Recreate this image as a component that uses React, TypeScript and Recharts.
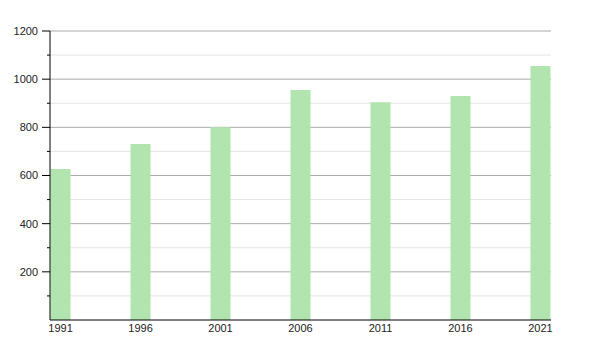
import { BarChart, Bar, XAxis, YAxis, CartesianGrid } from 'recharts';

const YEARS = [1991, 1996, 2001, 2006, 2011, 2016, 2021];
const POPULATION = [627, 731, 800, 955, 904, 930, 1055];
const Y_TICKS = [0, 100, 200, 300, 400, 500, 600, 700, 800, 900, 1000, 1100, 1200];
const MAJOR_LINES = [200, 400, 600, 800, 1000, 1200];
const MINOR_LINES = [100, 300, 500, 700, 900, 1100];

const chartData = YEARS.map((year, i) => ({ year, value: POPULATION[i] }));

function YTick({ x, y, payload }: any) {
    const v = payload.value;
    if (v === 0) return null;
    const major = v % 200 === 0;
    return (
        <g>
            <line x1={x - (major ? 8 : 3)} x2={x} y1={y} y2={y} stroke="#000" />
            {major && (
                <text x={x - 12} y={y} dy="0.35em" textAnchor="end" fontSize={11} fill="#222">
                    {v}
                </text>
            )}
        </g>
    );
}

export default function App() {
    return (
        <div style={{ width: 584, height: 334, fontFamily: '"Liberation Sans", Arial, sans-serif' }}>
            <BarChart width={584} height={334} data={chartData} margin={{ top: 23, right: 41, left: 0, bottom: 2 }}>
                <CartesianGrid vertical={false} horizontalValues={MINOR_LINES} stroke="#e3e3e3" />
                <CartesianGrid vertical={false} horizontalValues={MAJOR_LINES} stroke="#aaaaaa" />
                <XAxis
                    dataKey="year"
                    type="number"
                    domain={[1990.34, 2021.66]}
                    allowDataOverflow
                    ticks={YEARS}
                    interval={0}
                    tickLine={false}
                    tickSize={0}
                    tickMargin={4}
                    height={20}
                    axisLine={{ stroke: '#000' }}
                    tick={{ fontSize: 11, fill: '#222' }}
                />
                <YAxis
                    domain={[0, 1200]}
                    ticks={Y_TICKS}
                    interval={0}
                    width={42}
                    tickLine={false}
                    tickSize={0}
                    tickMargin={0}
                    axisLine={{ stroke: '#000' }}
                    tick={<YTick />}
                />
                <Bar dataKey="value" fill="#b1e4ae" barSize={20} isAnimationActive={false} />
            </BarChart>
        </div>
    );
}
